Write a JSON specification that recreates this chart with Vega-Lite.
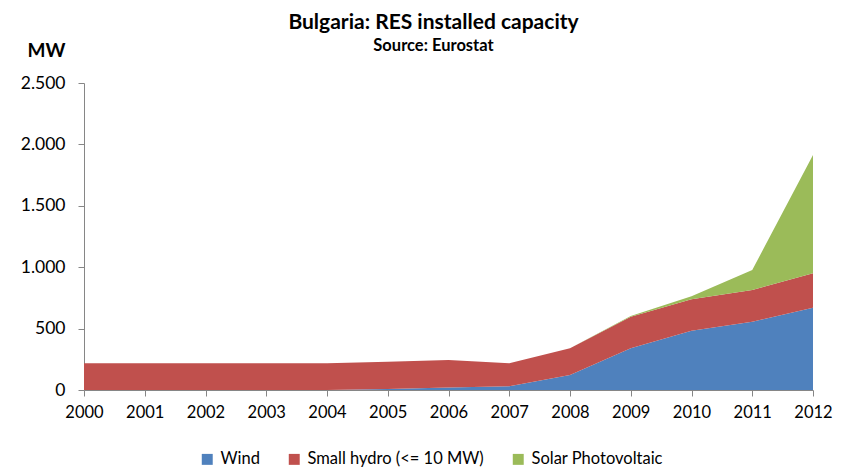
{
  "$schema": "https://vega.github.io/schema/vega-lite/v6.json",
  "width": 729,
  "height": 307,
  "autosize": {"type": "none"},
  "padding": {"left": 84, "top": 83, "right": 32, "bottom": 78},
  "background": "white",
  "config": {
    "font": "Lato",
    "view": {"stroke": null},
    "axis": {"grid": false, "domainColor": "#868686", "tickColor": "#868686", "labelColor": "#000000", "labelFont": "Lato", "labelFontSize": 16}
  },
  "title": {
    "text": "Bulgaria: RES installed capacity",
    "subtitle": "Source: Eurostat",
    "anchor": "middle",
    "frame": "group",
    "dx": -15,
    "offset": -13,
    "font": "Lato",
    "fontSize": 21,
    "fontWeight": "bold",
    "color": "#000000",
    "subtitleFont": "Lato",
    "subtitleFontSize": 16.5,
    "subtitleFontWeight": "bold",
    "subtitleColor": "#000000",
    "subtitlePadding": 5
  },
  "data": {
    "values": [
      {"year": 2000, "source": "Wind", "order": 1, "mw": 0},
      {"year": 2001, "source": "Wind", "order": 1, "mw": 0},
      {"year": 2002, "source": "Wind", "order": 1, "mw": 0},
      {"year": 2003, "source": "Wind", "order": 1, "mw": 0},
      {"year": 2004, "source": "Wind", "order": 1, "mw": 0},
      {"year": 2005, "source": "Wind", "order": 1, "mw": 8},
      {"year": 2006, "source": "Wind", "order": 1, "mw": 20},
      {"year": 2007, "source": "Wind", "order": 1, "mw": 30},
      {"year": 2008, "source": "Wind", "order": 1, "mw": 122},
      {"year": 2009, "source": "Wind", "order": 1, "mw": 339},
      {"year": 2010, "source": "Wind", "order": 1, "mw": 483},
      {"year": 2011, "source": "Wind", "order": 1, "mw": 556},
      {"year": 2012, "source": "Wind", "order": 1, "mw": 670},
      {"year": 2000, "source": "Small hydro (<= 10 MW)", "order": 2, "mw": 217},
      {"year": 2001, "source": "Small hydro (<= 10 MW)", "order": 2, "mw": 217},
      {"year": 2002, "source": "Small hydro (<= 10 MW)", "order": 2, "mw": 217},
      {"year": 2003, "source": "Small hydro (<= 10 MW)", "order": 2, "mw": 217},
      {"year": 2004, "source": "Small hydro (<= 10 MW)", "order": 2, "mw": 218},
      {"year": 2005, "source": "Small hydro (<= 10 MW)", "order": 2, "mw": 222},
      {"year": 2006, "source": "Small hydro (<= 10 MW)", "order": 2, "mw": 224},
      {"year": 2007, "source": "Small hydro (<= 10 MW)", "order": 2, "mw": 188},
      {"year": 2008, "source": "Small hydro (<= 10 MW)", "order": 2, "mw": 217},
      {"year": 2009, "source": "Small hydro (<= 10 MW)", "order": 2, "mw": 258},
      {"year": 2010, "source": "Small hydro (<= 10 MW)", "order": 2, "mw": 255},
      {"year": 2011, "source": "Small hydro (<= 10 MW)", "order": 2, "mw": 258},
      {"year": 2012, "source": "Small hydro (<= 10 MW)", "order": 2, "mw": 280},
      {"year": 2000, "source": "Solar Photovoltaic", "order": 3, "mw": 0},
      {"year": 2001, "source": "Solar Photovoltaic", "order": 3, "mw": 0},
      {"year": 2002, "source": "Solar Photovoltaic", "order": 3, "mw": 0},
      {"year": 2003, "source": "Solar Photovoltaic", "order": 3, "mw": 0},
      {"year": 2004, "source": "Solar Photovoltaic", "order": 3, "mw": 0},
      {"year": 2005, "source": "Solar Photovoltaic", "order": 3, "mw": 0},
      {"year": 2006, "source": "Solar Photovoltaic", "order": 3, "mw": 0},
      {"year": 2007, "source": "Solar Photovoltaic", "order": 3, "mw": 0},
      {"year": 2008, "source": "Solar Photovoltaic", "order": 3, "mw": 1},
      {"year": 2009, "source": "Solar Photovoltaic", "order": 3, "mw": 5},
      {"year": 2010, "source": "Solar Photovoltaic", "order": 3, "mw": 25},
      {"year": 2011, "source": "Solar Photovoltaic", "order": 3, "mw": 163},
      {"year": 2012, "source": "Solar Photovoltaic", "order": 3, "mw": 963}
    ]
  },
  "mark": {"type": "area", "interpolate": "linear"},
  "encoding": {
    "x": {
      "field": "year",
      "type": "quantitative",
      "scale": {"domain": [2000, 2012], "nice": false, "zero": false},
      "axis": {"title": null, "values": [2000, 2001, 2002, 2003, 2004, 2005, 2006, 2007, 2008, 2009, 2010, 2011, 2012], "format": "d", "labelFlush": false, "tickSize": 6, "labelPadding": 8, "labelFontSize": 16.5}
    },
    "y": {
      "field": "mw",
      "type": "quantitative",
      "stack": "zero",
      "scale": {"domain": [0, 2500], "nice": false},
      "axis": {
        "title": "MW",
        "titleAngle": 0,
        "titleX": -57,
        "titleY": -33,
        "titleAlign": "left",
        "titleBaseline": "middle",
        "titleFont": "Lato",
        "titleFontSize": 19,
        "titleFontWeight": "bold",
        "titleColor": "#000000",
        "values": [0, 500, 1000, 1500, 2000, 2500],
        "labelExpr": "replace(format(datum.value, ','), ',', '.')",
        "labelFontSize": 17.5,
        "tickSize": 6,
        "labelPadding": 13
      }
    },
    "color": {
      "field": "source",
      "type": "nominal",
      "scale": {"domain": ["Wind", "Small hydro (<= 10 MW)", "Solar Photovoltaic"], "range": ["#4F81BD", "#C0504D", "#9BBB59"]},
      "legend": {
        "title": null,
        "orient": "none",
        "direction": "horizontal",
        "legendX": 115,
        "legendY": 368,
        "symbolType": "square",
        "symbolSize": 120,
        "symbolStrokeWidth": 0,
        "labelFont": "Lato",
        "labelFontSize": 16.5,
        "labelColor": "#000000",
        "labelLimit": 0,
        "columnPadding": 26,
        "labelOffset": 5
      }
    },
    "order": {"field": "order", "type": "quantitative"}
  }
}
